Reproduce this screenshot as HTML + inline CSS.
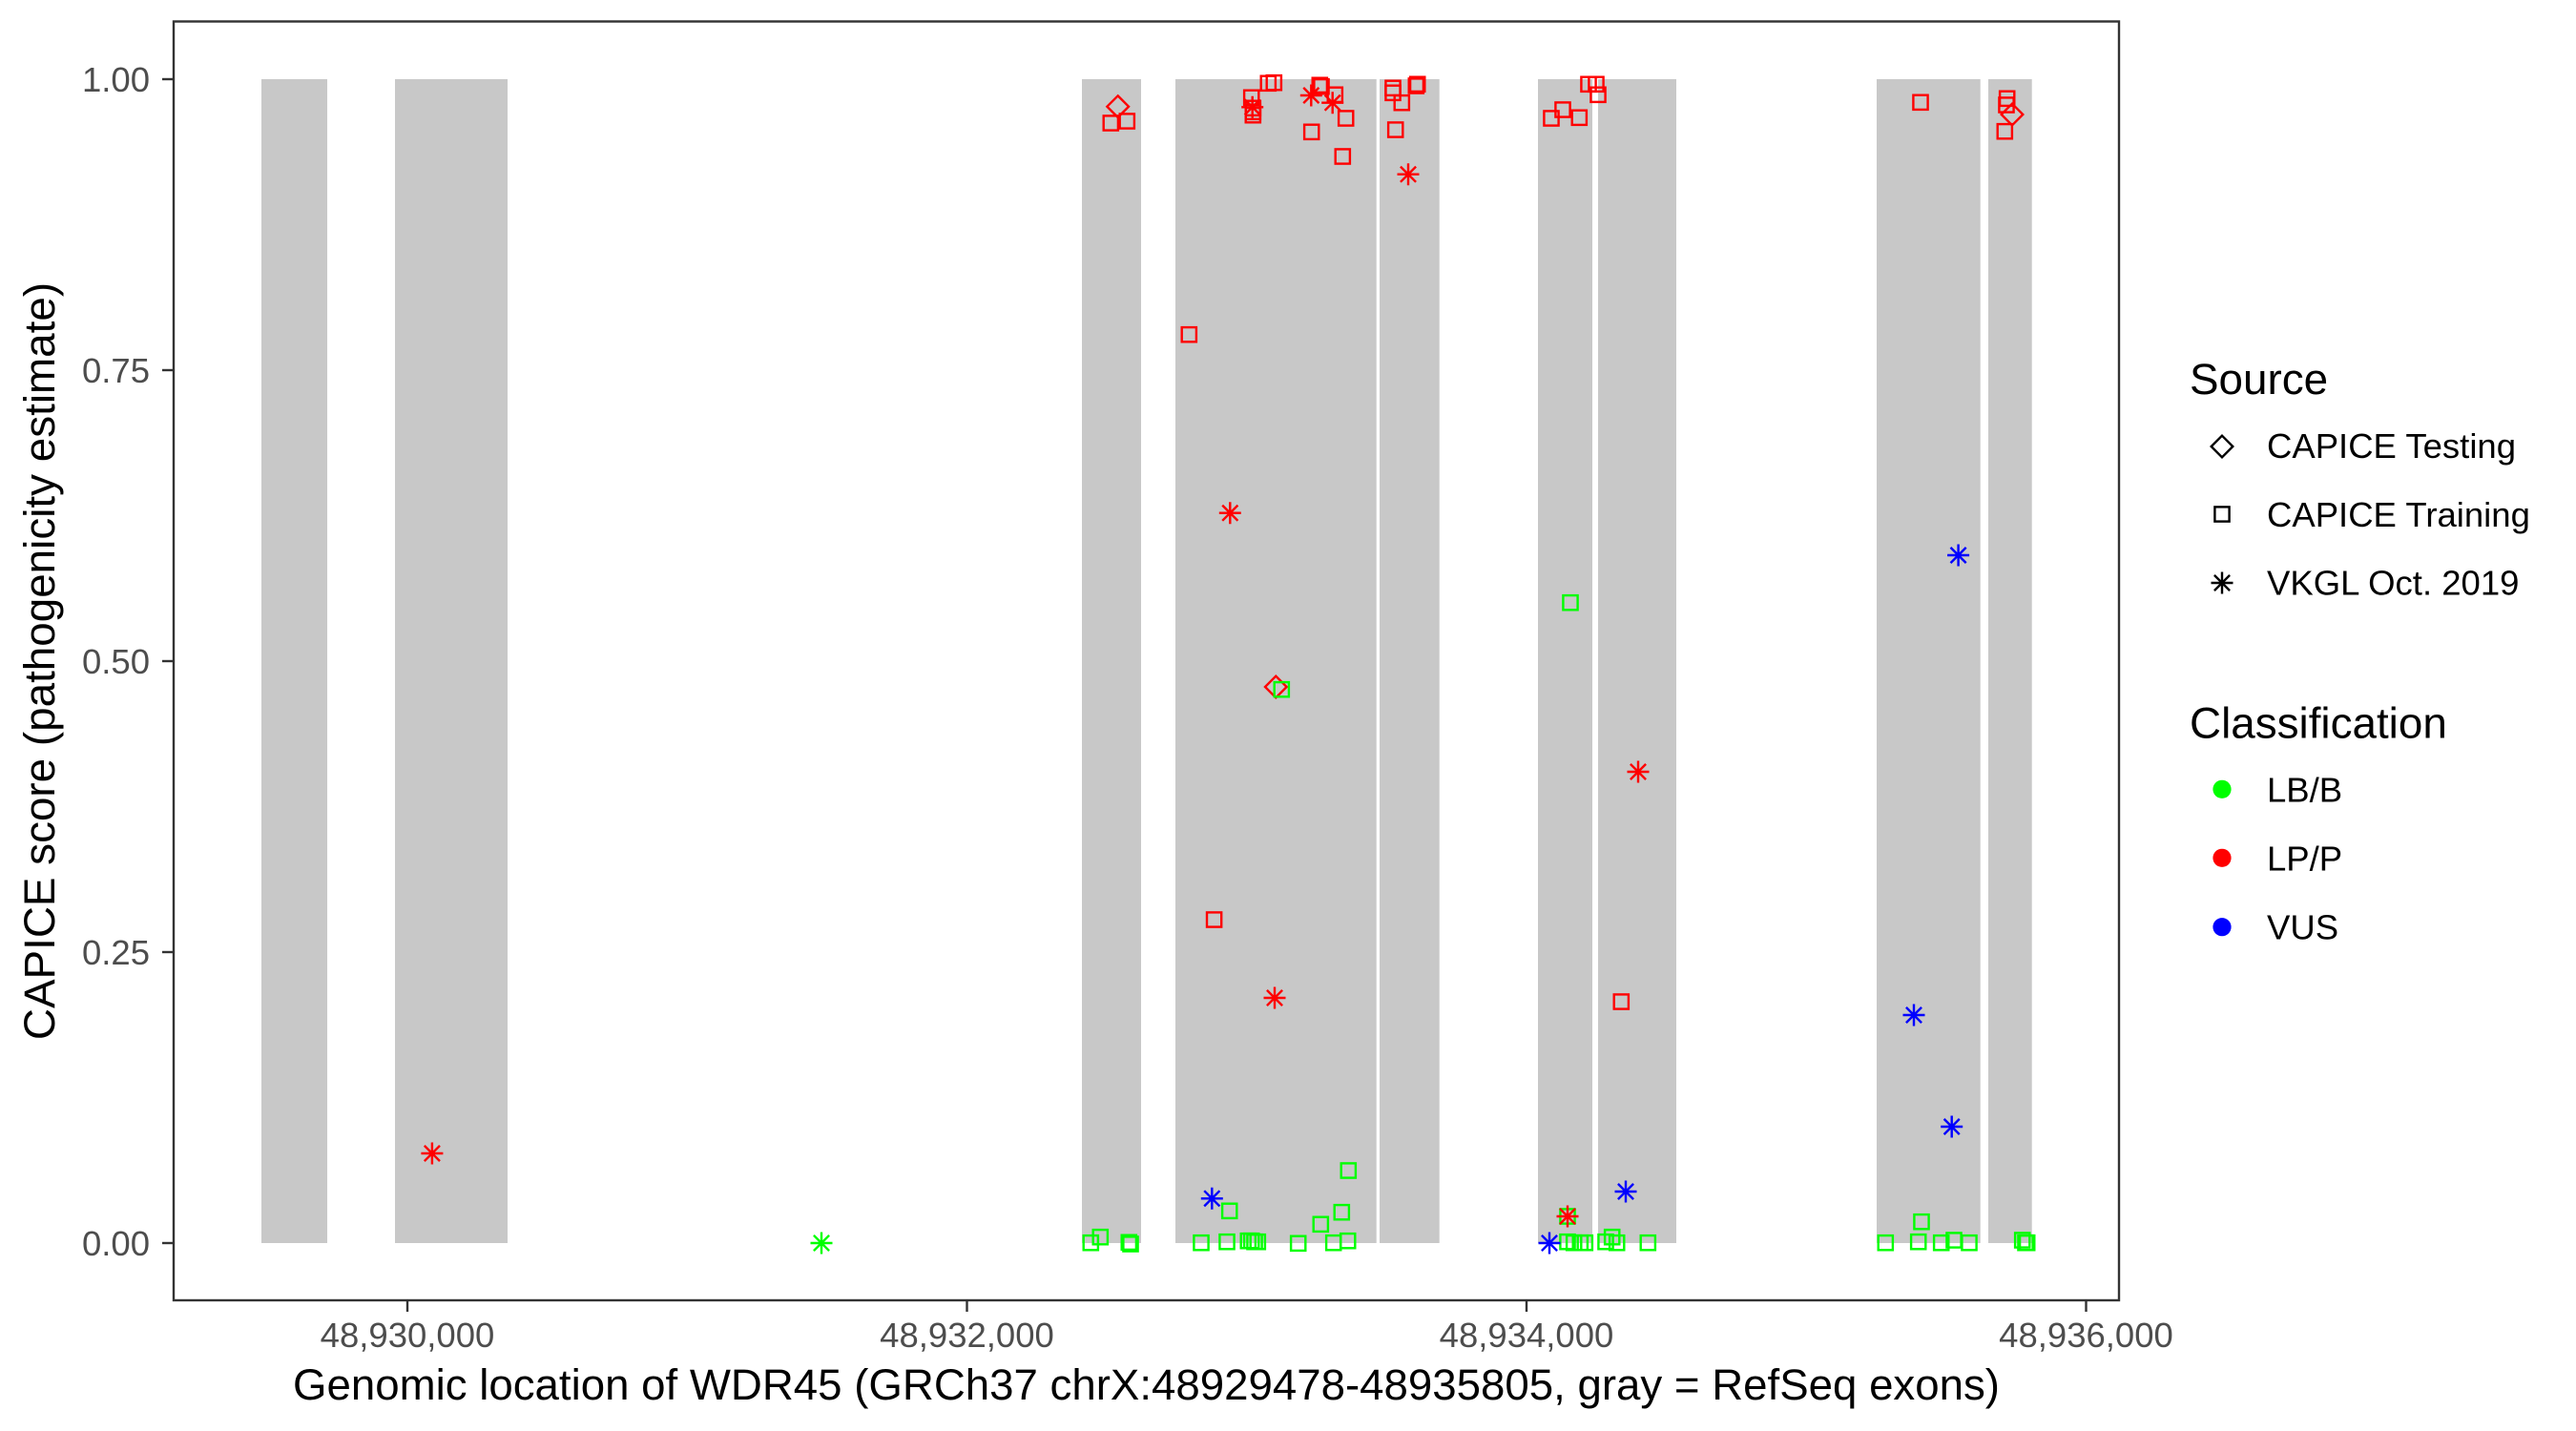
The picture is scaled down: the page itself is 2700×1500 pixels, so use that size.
<!DOCTYPE html>
<html>
<head>
<meta charset="utf-8">
<style>
  html, body { margin: 0; padding: 0; background: #ffffff; }
  svg { display: block; }
  text { font-family: "Liberation Sans", Arial, sans-serif; }
</style>
</head>
<body>
<svg width="2700" height="1500" viewBox="0 0 2700 1500" xmlns="http://www.w3.org/2000/svg">
  <defs>
    <g id="sq"><rect x="-7.6" y="-7.6" width="15.2" height="15.2" fill="none" stroke-width="2.4"/></g>
    <g id="dm"><path d="M0,-11.3 L11.3,0 L0,11.3 L-11.3,0 Z" fill="none" stroke-width="2.4"/></g>
    <g id="as"><path d="M0,-11.5 V11.5 M-11.5,0 H11.5 M-8.1,-8.1 L8.1,8.1 M-8.1,8.1 L8.1,-8.1" fill="none" stroke-width="2.4"/></g>
  </defs>
  <rect x="0" y="0" width="2700" height="1500" fill="#ffffff"/>

  <!-- exons -->
  <g fill="#C8C8C8">
    <rect x="274" y="83" width="69" height="1220"/>
    <rect x="414" y="83" width="118" height="1220"/>
    <rect x="1134" y="83" width="62" height="1220"/>
    <rect x="1232" y="83" width="210.7" height="1220"/>
    <rect x="1446" y="83" width="62.7" height="1220"/>
    <rect x="1612" y="83" width="57" height="1220"/>
    <rect x="1675" y="83" width="82" height="1220"/>
    <rect x="1967" y="83" width="108.7" height="1220"/>
    <rect x="2084" y="83" width="45.7" height="1220"/>
  </g>

  <!-- green squares -->
  <g stroke="#00FF00">
    <use href="#sq" x="1143.3" y="1302.7"/><use href="#sq" x="1153.3" y="1296.7"/>
    <use href="#sq" x="1183.3" y="1302.3"/><use href="#sq" x="1185" y="1304"/>
    <use href="#sq" x="1259" y="1302.7"/><use href="#sq" x="1286" y="1301.7"/>
    <use href="#sq" x="1308.3" y="1300.7"/><use href="#sq" x="1311.7" y="1300.7"/>
    <use href="#sq" x="1315" y="1301.7"/><use href="#sq" x="1318.3" y="1301.7"/>
    <use href="#sq" x="1288.7" y="1269.3"/><use href="#sq" x="1360.7" y="1303.3"/>
    <use href="#sq" x="1384.3" y="1283.3"/><use href="#sq" x="1397.7" y="1302.7"/>
    <use href="#sq" x="1406.3" y="1270.7"/><use href="#sq" x="1412.7" y="1300.7"/>
    <use href="#sq" x="1413.3" y="1227"/>
    <use href="#sq" x="1646" y="631.7"/><use href="#sq" x="1643" y="1275"/>
    <use href="#sq" x="1643" y="1301.7"/><use href="#sq" x="1649.7" y="1302.7"/>
    <use href="#sq" x="1656.3" y="1302.7"/><use href="#sq" x="1661.3" y="1302.7"/>
    <use href="#sq" x="1683" y="1301.7"/><use href="#sq" x="1689.7" y="1296.7"/>
    <use href="#sq" x="1694.7" y="1302.7"/><use href="#sq" x="1727.3" y="1302.7"/>
    <use href="#sq" x="1976.3" y="1302.7"/><use href="#sq" x="2014" y="1280.7"/>
    <use href="#sq" x="2010.7" y="1301.7"/><use href="#sq" x="2034.7" y="1302.7"/>
    <use href="#sq" x="2048" y="1300"/><use href="#sq" x="2064" y="1302.7"/>
    <use href="#sq" x="2119.7" y="1300"/><use href="#sq" x="2123" y="1302.7"/>
    <use href="#sq" x="2124.7" y="1302.7"/>
    <use href="#as" x="861" y="1303"/>
  </g>

  <!-- red -->
  <g stroke="#FF0000">
    <use href="#dm" x="1337.3" y="720"/>
  </g>
  <g stroke="#00FF00">
    <use href="#sq" x="1343.3" y="722.7"/>
  </g>
  <g stroke="#FF0000">
    <use href="#sq" x="1164.3" y="129"/><use href="#sq" x="1181.3" y="127"/>
    <use href="#sq" x="1311.7" y="102.3"/><use href="#sq" x="1313.3" y="113.3"/>
    <use href="#sq" x="1313.3" y="117.3"/><use href="#sq" x="1313.3" y="120.7"/>
    <use href="#sq" x="1329.3" y="87.3"/><use href="#sq" x="1335.3" y="86.7"/>
    <use href="#sq" x="1383.3" y="89.3"/><use href="#sq" x="1385" y="90.7"/>
    <use href="#sq" x="1399.3" y="99.3"/><use href="#sq" x="1410.7" y="124"/>
    <use href="#sq" x="1374.7" y="138.3"/><use href="#sq" x="1407.3" y="164"/>
    <use href="#sq" x="1460" y="92.3"/><use href="#sq" x="1460" y="97.3"/>
    <use href="#sq" x="1469.3" y="107.7"/><use href="#sq" x="1484.3" y="90"/>
    <use href="#sq" x="1485.7" y="88.3"/><use href="#sq" x="1462.7" y="136"/>
    <use href="#sq" x="1246.3" y="350.7"/><use href="#sq" x="1272.6" y="964"/>
    <use href="#sq" x="1699.3" y="1050"/>
    <use href="#sq" x="1626" y="124"/><use href="#sq" x="1638" y="115"/>
    <use href="#sq" x="1655.3" y="123.3"/><use href="#sq" x="1665" y="88.3"/>
    <use href="#sq" x="1673" y="88.3"/><use href="#sq" x="1675" y="99.3"/>
    <use href="#sq" x="2013" y="107.3"/>
    <use href="#sq" x="2103.7" y="103.3"/><use href="#sq" x="2103" y="110"/>
    <use href="#sq" x="2101.3" y="137.7"/>
    <use href="#dm" x="1171.7" y="111.7"/><use href="#dm" x="2109" y="120"/>
    <use href="#as" x="452.9" y="1209"/><use href="#as" x="1312.7" y="112.3"/>
    <use href="#as" x="1374.3" y="100"/><use href="#as" x="1396.7" y="107.7"/>
    <use href="#as" x="1476" y="182.7"/><use href="#as" x="1289.3" y="537.7"/>
    <use href="#as" x="1336" y="1046"/><use href="#as" x="1717" y="809"/>
    <use href="#as" x="1643" y="1275"/>
  </g>

  <!-- blue -->
  <g stroke="#0000FF">
    <use href="#as" x="1270.3" y="1256.3"/><use href="#as" x="1624" y="1303"/>
    <use href="#as" x="1704" y="1249"/><use href="#as" x="2052.6" y="582"/>
    <use href="#as" x="2006" y="1064"/><use href="#as" x="2045.7" y="1181"/>
  </g>

  <!-- panel border -->
  <rect x="182" y="22.5" width="2039" height="1340.5" fill="none" stroke="#333333" stroke-width="2.4"/>

  <!-- y ticks -->
  <g stroke="#333333" stroke-width="2.4">
    <line x1="170" y1="83" x2="182" y2="83"/>
    <line x1="170" y1="388" x2="182" y2="388"/>
    <line x1="170" y1="693" x2="182" y2="693"/>
    <line x1="170" y1="998" x2="182" y2="998"/>
    <line x1="170" y1="1303" x2="182" y2="1303"/>
    <line x1="427" y1="1363" x2="427" y2="1375"/>
    <line x1="1013.5" y1="1363" x2="1013.5" y2="1375"/>
    <line x1="1600" y1="1363" x2="1600" y2="1375"/>
    <line x1="2186.5" y1="1363" x2="2186.5" y2="1375"/>
  </g>
  <g fill="#4D4D4D" font-size="36.5" text-anchor="end">
    <text x="157" y="96">1.00</text>
    <text x="157" y="401">0.75</text>
    <text x="157" y="706">0.50</text>
    <text x="157" y="1011">0.25</text>
    <text x="157" y="1316">0.00</text>
  </g>
  <g fill="#4D4D4D" font-size="36.5" text-anchor="middle">
    <text x="427" y="1412">48,930,000</text>
    <text x="1013.5" y="1412">48,932,000</text>
    <text x="1600" y="1412">48,934,000</text>
    <text x="2186.5" y="1412">48,936,000</text>
  </g>

  <!-- axis titles -->
  <text x="1201.5" y="1467" font-size="45.8" fill="#000000" text-anchor="middle" textLength="1789" lengthAdjust="spacingAndGlyphs">Genomic location of WDR45 (GRCh37 chrX:48929478-48935805, gray = RefSeq exons)</text>
  <text transform="translate(57,693) rotate(-90)" x="0" y="0" font-size="45.8" fill="#000000" text-anchor="middle">CAPICE score (pathogenicity estimate)</text>

  <!-- legend: Source -->
  <text x="2295" y="413" font-size="45.8" fill="#000000">Source</text>
  <g stroke="#000000">
    <use href="#dm" x="2329" y="468"/>
    <use href="#sq" x="2329" y="539"/>
    <use href="#as" x="2329" y="611"/>
  </g>
  <g font-size="36.5" fill="#000000">
    <text x="2376" y="480">CAPICE Testing</text>
    <text x="2376" y="552">CAPICE Training</text>
    <text x="2376" y="623.5">VKGL Oct. 2019</text>
  </g>

  <!-- legend: Classification -->
  <text x="2295" y="773.5" font-size="45.8" fill="#000000">Classification</text>
  <circle cx="2329" cy="827.3" r="9.6" fill="#00FF00"/>
  <circle cx="2329" cy="899.3" r="9.6" fill="#FF0000"/>
  <circle cx="2329" cy="971.7" r="9.6" fill="#0000FF"/>
  <g font-size="36.5" fill="#000000">
    <text x="2376" y="840.7">LB/B</text>
    <text x="2376" y="912.7">LP/P</text>
    <text x="2376" y="984.3">VUS</text>
  </g>
</svg>
</body>
</html>
